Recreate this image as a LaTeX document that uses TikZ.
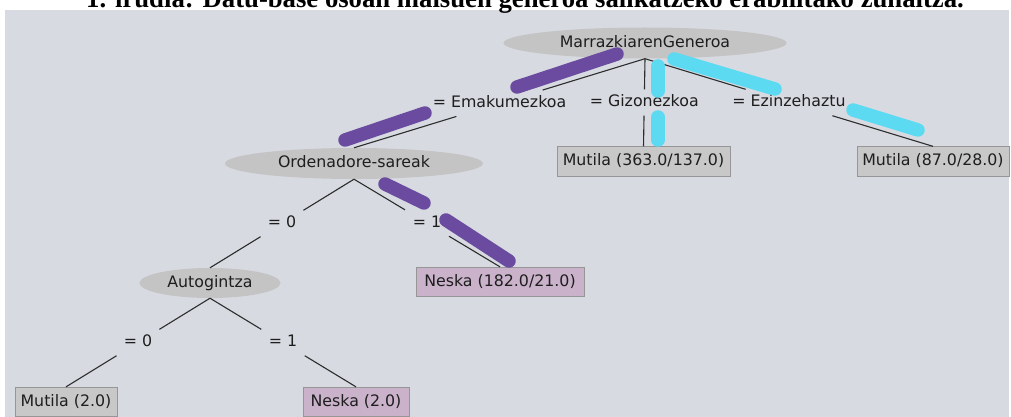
\documentclass[tikz,border=0pt]{standalone}
\usepackage{fontspec}
\setmainfont{DejaVu Sans}
\newfontfamily\titlefont{Liberation Serif}
\usetikzlibrary{shapes.geometric,calc}

\definecolor{panel}{RGB}{215,218,225}
\definecolor{nodegray}{RGB}{196,196,196}
\definecolor{leafgray}{RGB}{200,200,200}
\definecolor{leafpink}{RGB}{201,178,202}
\definecolor{leafedge}{RGB}{150,150,150}
\definecolor{linecol}{RGB}{45,45,45}
\definecolor{inkcol}{RGB}{30,30,30}
\definecolor{hlviolet}{RGB}{106,75,160}
\definecolor{hlsky}{RGB}{92,218,242}

\tikzset{
  treefont/.style={font=\fontsize{15.8}{18}\selectfont, text=inkcol},
  attr/.style={ellipse, fill=nodegray, minimum height=31, inner sep=0, treefont,
               text height=11.6, text depth=3},
  leafbox/.style={rectangle, draw=leafedge, line width=0.8, minimum height=29.5,
               inner sep=0, treefont, text height=11.6, text depth=3},
  lbl/.style={minimum width=50, minimum height=26, inner sep=0, treefont,
               text height=11.6, text depth=3},
  branch/.style={draw=linecol, line width=1.1},
  violetpen/.style={draw=hlviolet, line width=13.5, line cap=round},
  skypen/.style={draw=hlsky, line width=13.5, line cap=round}
}

\begin{document}
\begin{tikzpicture}[x=1pt, y=-1pt]
\useasboundingbox (0,0) rectangle (1011,417);
\clip (0,0) rectangle (1011,417);
\fill[white] (0,0) rectangle (1011,417);
\fill[panel] (5,10.5) rectangle (1009,417);

% caption, cut by the top edge
\node[anchor=base west, inner sep=0, font=\titlefont\bfseries\fontsize{26.7}{30}\selectfont]
  (title) at (86,7.5) {1. irudia: Datu-base osoan maisuen generoa sailkatzeko erabilitako zuhaitza.};

% decision nodes
\node[attr, minimum width=283] (root) at (645,43) {MarrazkiarenGeneroa};
\node[attr, minimum width=258] (ord)  at (354,163.5) {Ordenadore-sareak};
\node[attr, minimum width=141, minimum height=30] (auto) at (210,283) {Autogintza};

% leaves
\node[leafbox, fill=leafgray, minimum width=173] (m1) at (643.5,161.5) {Mutila (363.0/137.0)};
\node[leafbox, fill=leafgray, minimum width=152] (m2) at (933,161.5) {Mutila (87.0/28.0)};
\node[leafbox, fill=leafpink, minimum width=168] (n1) at (500,282) {Neska (182.0/21.0)};
\node[leafbox, fill=leafgray, minimum width=102] (m3) at (66,402) {Mutila (2.0)};
\node[leafbox, fill=leafpink, minimum width=106] (n2) at (356,402) {Neska (2.0)};

% branch labels, halfway along each branch
\node[lbl] (le)  at ($(root.south)!0.5!(ord.north)$) {= Emakumezkoa};
\node[lbl] (lg)  at ($(root.south)!0.5!(m1.north)$)  {= Gizonezkoa};
\node[lbl] (lz)  at ($(root.south)!0.5!(m2.north)$)  {= Ezinzehaztu};
\node[lbl] (lo0) at ($(ord.south)!0.5!(auto.north)$) {= 0};
\node[lbl] (lo1) at ($(ord.south)!0.5!(n1.north)$)   {= 1};
\node[lbl] (la0) at ($(auto.south)!0.5!(m3.north)$)  {= 0};
\node[lbl] (la1) at ($(auto.south)!0.5!(n2.north)$)  {= 1};

% branches
\draw[branch] (root.south) -- (le);  \draw[branch] (le)  -- (ord.north);
\draw[branch] (root.south) -- (lg);  \draw[branch] (lg)  -- (m1.north);
\draw[branch] (root.south) -- (lz);  \draw[branch] (lz)  -- (m2.north);
\draw[branch] (ord.south)  -- (lo0); \draw[branch] (lo0) -- (auto.north);
\draw[branch] (ord.south)  -- (lo1); \draw[branch] (lo1) -- (n1.north);
\draw[branch] (auto.south) -- (la0); \draw[branch] (la0) -- (m3.north);
\draw[branch] (auto.south) -- (la1); \draw[branch] (la1) -- (n2.north);

% highlighter strokes
\draw[violetpen] (517,87) -- (617,54);
\draw[violetpen] (345,140) -- (425,113);
\draw[violetpen] (385,184) -- (424,203);
\draw[violetpen] (446,220) -- (509,261);
\draw[skypen] (658,66) -- (658,91);
\draw[skypen] (658,117) -- (658,140);
\draw[skypen] (674,59) -- (775,89);
\draw[skypen] (853,110) -- (918,130);
\end{tikzpicture}
\end{document}
